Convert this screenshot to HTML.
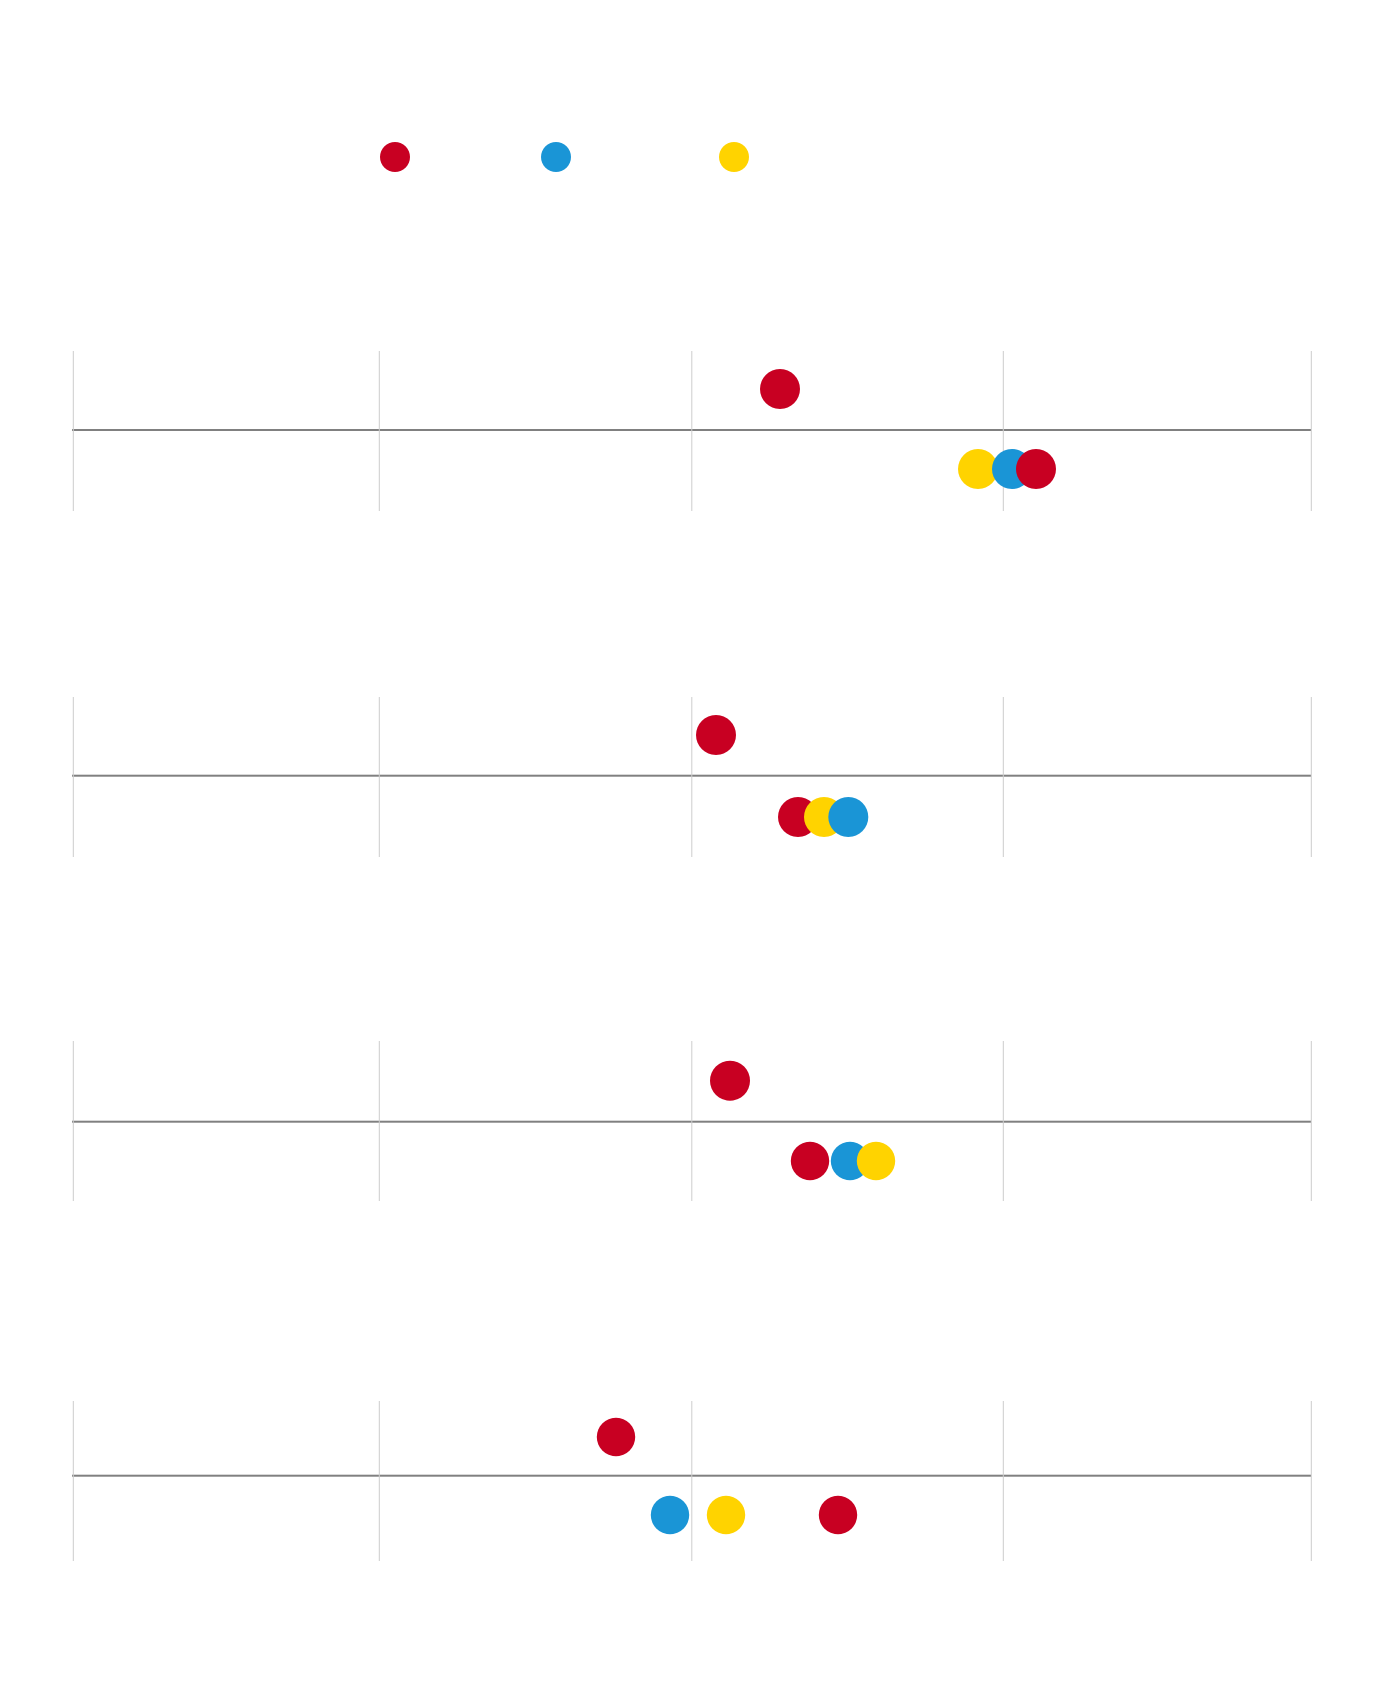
<!DOCTYPE html>
<html>
<head>
<meta charset="utf-8">
<style>
  html, body { margin: 0; padding: 0; background: #ffffff; }
  body { width: 1380px; height: 1706px; overflow: hidden; }
  svg { display: block; }
</style>
</head>
<body>
<svg width="1380" height="1706" viewBox="0 0 1380 1706" xmlns="http://www.w3.org/2000/svg">
  <rect x="0" y="0" width="1380" height="1706" fill="#ffffff"/>

  <!-- Legend -->
  <circle cx="395" cy="157" r="15" fill="#c80022"/>
  <circle cx="556" cy="157" r="15" fill="#1a95d6"/>
  <circle cx="734" cy="157" r="15" fill="#ffd300"/>

  <!-- Chart 1 -->
  <g>
    <rect x="72" y="429" width="1239" height="2" fill="#808080"/>
    <g fill="#cccccc">
      <rect x="72.8" y="351" width="1" height="160"/>
      <rect x="378.8" y="351" width="1" height="160"/>
      <rect x="691.3" y="351" width="1" height="160"/>
      <rect x="1002.8" y="351" width="1" height="160"/>
      <rect x="1310.8" y="351" width="1" height="160"/>
    </g>
    <circle cx="780" cy="389" r="20" fill="#c80022"/>
    <circle cx="978" cy="469" r="20" fill="#ffd300"/>
    <circle cx="1012" cy="469" r="20" fill="#1a95d6"/>
    <circle cx="1036" cy="469" r="20" fill="#c80022"/>
  </g>

  <!-- Chart 2 -->
  <g>
    <rect x="72" y="774.7" width="1239" height="2" fill="#808080"/>
    <g fill="#cccccc">
      <rect x="72.8" y="697" width="1" height="160"/>
      <rect x="378.8" y="697" width="1" height="160"/>
      <rect x="691.3" y="697" width="1" height="160"/>
      <rect x="1002.8" y="697" width="1" height="160"/>
      <rect x="1310.8" y="697" width="1" height="160"/>
    </g>
    <circle cx="716" cy="735" r="20" fill="#c80022"/>
    <circle cx="798" cy="817" r="20" fill="#c80022"/>
    <circle cx="824" cy="817" r="20" fill="#ffd300"/>
    <circle cx="848.3" cy="817" r="20" fill="#1a95d6"/>
  </g>

  <!-- Chart 3 -->
  <g>
    <rect x="72" y="1120.7" width="1239" height="2" fill="#808080"/>
    <g fill="#cccccc">
      <rect x="72.8" y="1041" width="1" height="160"/>
      <rect x="378.8" y="1041" width="1" height="160"/>
      <rect x="691.3" y="1041" width="1" height="160"/>
      <rect x="1002.8" y="1041" width="1" height="160"/>
      <rect x="1310.8" y="1041" width="1" height="160"/>
    </g>
    <circle cx="730" cy="1080.7" r="20" fill="#c80022"/>
    <circle cx="810" cy="1161" r="19.2" fill="#c80022"/>
    <circle cx="850" cy="1161" r="19.2" fill="#1a95d6"/>
    <circle cx="876" cy="1161" r="19.2" fill="#ffd300"/>
  </g>

  <!-- Chart 4 -->
  <g>
    <rect x="72" y="1474.7" width="1239" height="2" fill="#808080"/>
    <g fill="#cccccc">
      <rect x="72.8" y="1401" width="1" height="160"/>
      <rect x="378.8" y="1401" width="1" height="160"/>
      <rect x="691.3" y="1401" width="1" height="160"/>
      <rect x="1002.8" y="1401" width="1" height="160"/>
      <rect x="1310.8" y="1401" width="1" height="160"/>
    </g>
    <circle cx="616" cy="1437" r="19.2" fill="#c80022"/>
    <circle cx="670" cy="1515" r="19.2" fill="#1a95d6"/>
    <circle cx="726" cy="1515" r="19.2" fill="#ffd300"/>
    <circle cx="838" cy="1515" r="19.2" fill="#c80022"/>
  </g>
</svg>
</body>
</html>
